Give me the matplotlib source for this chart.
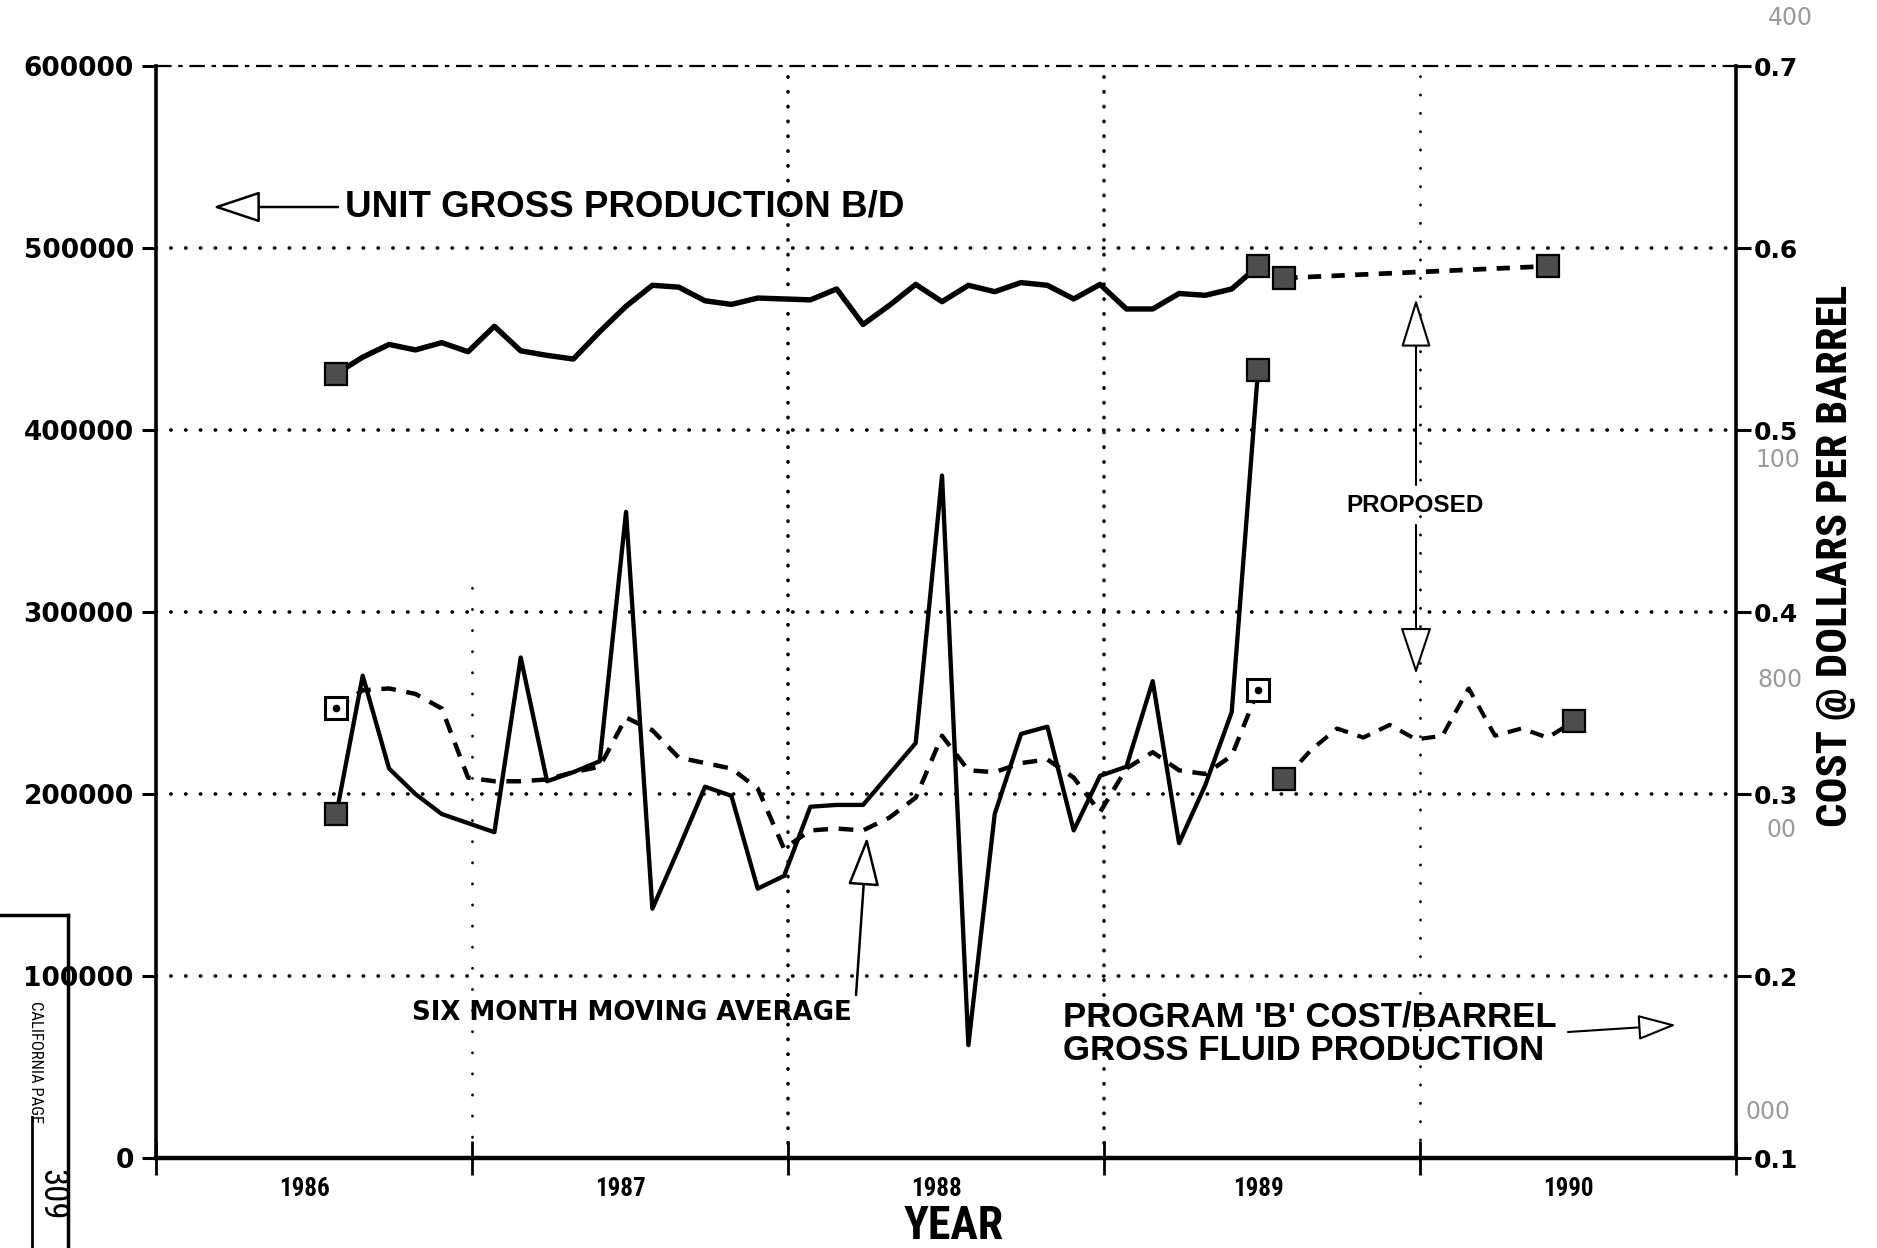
import matplotlib
matplotlib.use("Agg")
import matplotlib.pyplot as plt
from matplotlib import font_manager as fm
from matplotlib.lines import Line2D
import pandas as pd

# ---------------- data ----------------
year_labels = ["1986", "1987", "1988", "1989", "1990"]
left_ticks = [0, 100000, 200000, 300000, 400000, 500000, 600000]
right_ticks = [0.1, 0.2, 0.3, 0.4, 0.5, 0.6, 0.7]

actual_months = pd.period_range("1986-07", "1989-06", freq="M")

gross_production = [431000, 440000, 447000, 444000, 448000, 443000, 457000, 443500,
                    441000, 439000, 454000, 468000, 479500, 478500, 471000, 469000,
                    472500, 472000, 471500, 477500, 458000, 468500, 480000, 470500,
                    479500, 476000, 481000, 479500, 472000, 480000, 466500, 466500,
                    475000, 474000, 477500, 490000]

cost_per_barrel = [0.289, 0.365, 0.314, 0.300, 0.289, 0.284, 0.279, 0.375,
                   0.307, 0.312, 0.318, 0.455, 0.237, 0.270, 0.304, 0.299,
                   0.248, 0.255, 0.293, 0.294, 0.294, 0.311, 0.328, 0.475,
                   0.162, 0.289, 0.333, 0.337, 0.280, 0.310, 0.315, 0.362,
                   0.273, 0.305, 0.345, 0.533]

cost_moving_avg = [0.347, 0.357, 0.358, 0.355, 0.347, 0.309, 0.307, 0.307,
                   0.308, 0.312, 0.315, 0.342, 0.335, 0.320, 0.317, 0.314,
                   0.303, 0.270, 0.280, 0.281, 0.280, 0.287, 0.298, 0.332,
                   0.313, 0.312, 0.317, 0.319, 0.309, 0.290, 0.314, 0.323,
                   0.313, 0.311, 0.321, 0.357]

proposed_gross_months = pd.PeriodIndex(["1989-07", "1990-05"], freq="M")
proposed_gross = [483500, 490000]

proposed_cost_months = pd.period_range("1989-07", "1990-06", freq="M")
proposed_cost = [0.308, 0.324, 0.336, 0.331, 0.338, 0.330, 0.332, 0.358,
                 0.332, 0.336, 0.331, 0.340]


def month_pos(periods):
    return [p.year + (p.month - 1 + 0.85) / 12 for p in periods]


# ---------------- fonts ----------------
names = {f.name for f in fm.fontManager.ttflist}
COND = next((n for n in ["Liberation Sans Narrow", "Roboto Condensed",
                         "Open Sans Condensed"] if n in names), "Liberation Sans")
HEL = "Liberation Sans"
plt.rcParams["font.family"] = ["DejaVu Sans"]

W, H = 1877, 1248
fig = plt.figure(figsize=(W / 100, H / 100), dpi=100)
ax = fig.add_axes([156 / W, (H - 1158) / H, (1736 - 156) / W, (1158 - 66) / H])
ax2 = ax.twinx()

ax.set_xlim(1986, 1991)
ax.set_ylim(0, 600000)
ax2.set_ylim(0.1, 0.7)

# spines
for s in ["top", "right"]:
    ax.spines[s].set_visible(False)
ax.spines["left"].set_linewidth(2.6)
ax.spines["bottom"].set_linewidth(3.2)
for s in ["top", "left", "bottom"]:
    ax2.spines[s].set_visible(False)
ax2.spines["right"].set_linewidth(2.6)

# ticks
ax.set_yticks(left_ticks)
ax.set_yticklabels([str(v) for v in left_ticks], fontsize=19, fontweight="bold")
ax.tick_params(axis="y", direction="out", length=10, width=2.2, pad=6)
ax.set_xticks([1986, 1987, 1988, 1989, 1990, 1991])
ax.set_xticklabels([])
ax.tick_params(axis="x", which="major", direction="inout", length=24, width=2)
ax.set_xticks([1986.47, 1987.47, 1988.47, 1989.49, 1990.47], minor=True)
ax.set_xticklabels(year_labels, minor=True, fontsize=18, fontweight="bold",
                   fontfamily=COND)
ax.tick_params(axis="x", which="minor", length=0, pad=14)
ax2.set_yticks(right_ticks)
ax2.set_yticklabels([f"{v:.1f}" for v in right_ticks], fontsize=18, fontweight="bold")
ax2.tick_params(axis="y", direction="out", length=11, width=2.2, pad=2)

# grid (dotted)
dense = (0, (0.1, 4.0))
for v in left_ticks[1:-1]:
    ax.axhline(v, color="black", lw=2.6, ls=dense, dash_capstyle="round", zorder=1)
ax.plot([1987, 1987], [0, 315000], color="black", lw=2.0, ls=(0, (0.1, 7.5)),
        dash_capstyle="round", zorder=1)
for xv in [1988, 1989]:
    ax.plot([xv, xv], [0, 600000], color="black", lw=2.6, ls=dense,
            dash_capstyle="round", zorder=1)
ax.plot([1990, 1990], [0, 600000], color="black", lw=2.0, ls=(0, (0.1, 6.5)),
        dash_capstyle="round", zorder=1)
ax.plot([1986, 1991], [600000, 600000], color="black", lw=1.6,
        ls=(0, (7, 3, 2, 3)), clip_on=False, zorder=1)

# series
xa = month_pos(actual_months)
xpg = month_pos(proposed_gross_months)
xpc = month_pos(proposed_cost_months)
filled = dict(marker="s", ms=16.5, mfc="#4d4d4d", mec="black", mew=1.6, ls="none", zorder=6)
opened = dict(marker="s", ms=16, mfc="white", mec="black", mew=2.2, ls="none", zorder=6)

ax.plot(xa, gross_production, color="black", lw=3.9, solid_joinstyle="round", zorder=4)
ax.plot([xa[0], xa[-1]], [gross_production[0], gross_production[-1]], **filled)
ax.plot(xpg, proposed_gross, color="black", lw=3.4, ls=(0, (2.8, 2.2)), zorder=4)
ax.plot(xpg, proposed_gross, **filled)

ax2.plot(xa, cost_per_barrel, color="black", lw=3.1, solid_joinstyle="round", zorder=4)
ax2.plot([xa[0], xa[-1]], [cost_per_barrel[0], cost_per_barrel[-1]], **filled)
ax2.plot(xa, cost_moving_avg, color="black", lw=3.2, ls=(0, (3.3, 2.4)), zorder=4)
ax2.plot([xa[0], xa[-1]], [cost_moving_avg[0], cost_moving_avg[-1]], **opened)
ax2.plot([xa[0], xa[-1]], [cost_moving_avg[0], cost_moving_avg[-1]],
         marker="o", ms=4.5, color="black", ls="none", zorder=7)
ax2.plot(xpc, proposed_cost, color="black", lw=3.0, ls=(0, (3.3, 2.4)), zorder=4)
ax2.plot([xpc[0], xpc[-1]], [proposed_cost[0], proposed_cost[-1]], **filled)


# ---------------- annotations ----------------
def P(xf, yf):
    """figure-pixel position of the scan -> left-axis data position"""
    return (1986 + (xf - 156) / 316, (1158 - yf) / 182 * 1e5)


def arrow(tail, tip, hl=1.5, hw=0.5, lw=1.8):
    ax.annotate("", xy=P(*tip), xytext=P(*tail), zorder=8,
                arrowprops=dict(arrowstyle=f"-|>,head_length={hl},head_width={hw}",
                                fc="white", ec="black", lw=lw, mutation_scale=20,
                                shrinkA=0, shrinkB=0))


arrow((338, 207), (213, 207))
ax.text(*P(345, 207), "UNIT GROSS PRODUCTION B/D", ha="left", va="center",
        fontsize=26.5, fontweight="bold", family=HEL, zorder=9)

ax.text(*P(1415, 505), "PROPOSED", ha="center", va="center", fontsize=17.5,
        fontweight="bold", family=HEL, zorder=9)
arrow((1416, 485), (1416, 299), hl=1.55, hw=0.48, lw=1.5)
arrow((1416, 525), (1416, 674), hl=1.5, hw=0.5, lw=1.5)

ax.text(*P(632, 1013), "SIX MONTH MOVING AVERAGE", ha="center", va="center",
        fontsize=18.7, fontweight="bold", zorder=9)
arrow((856, 995), (867, 837), hl=1.55, hw=0.5, lw=1.8)

ax.text(*P(1063, 1017), "PROGRAM 'B' COST/BARREL", ha="left", va="center",
        fontsize=25, fontweight="bold", family=HEL, zorder=9)
ax.text(*P(1063, 1050), "GROSS FLUID PRODUCTION", ha="left", va="center",
        fontsize=25, fontweight="bold", family=HEL, zorder=9)
arrow((1568, 1032), (1676, 1025), hl=1.2, hw=0.4, lw=1.5)

fig.text(954 / W, 1 - 1226 / H, "YEAR", ha="center", va="center", fontsize=33,
         fontweight="bold", family=COND)
fig.text(1836 / W, 1 - 556 / H, "COST @ DOLLARS PER BARREL", rotation=90,
         ha="center", va="center", fontsize=31, fontweight="bold", family=COND)

# faint bleed-through numbers of the scan
for txt, xf, yf in [("400", 1790, 18), ("100", 1778, 460), ("800", 1780, 680),
                    ("00", 1782, 830), ("000", 1768, 1112)]:
    fig.text(xf / W, 1 - yf / H, txt, ha="center", va="center", fontsize=17,
             color="#9a9a9a")

# archive stamp on the left margin
fig.add_artist(Line2D([0, 68 / W], [1 - 915 / H, 1 - 915 / H], color="black", lw=2.5))
fig.add_artist(Line2D([68 / W, 68 / W], [0, 1 - 915 / H], color="black", lw=2.5))
fig.add_artist(Line2D([32 / W, 32 / W], [0, 1 - 1117 / H], color="black", lw=2))
fig.text(35 / W, 1 - 1062 / H, "CALIFORNIA PAGE", rotation=-90, ha="center",
         va="center", fontsize=12, family=COND)
fig.text(52 / W, 1 - 1195 / H, "309", rotation=-90, ha="center", va="center",
         fontsize=25, family=COND)

fig.savefig("out.png", dpi=100, facecolor="white")
